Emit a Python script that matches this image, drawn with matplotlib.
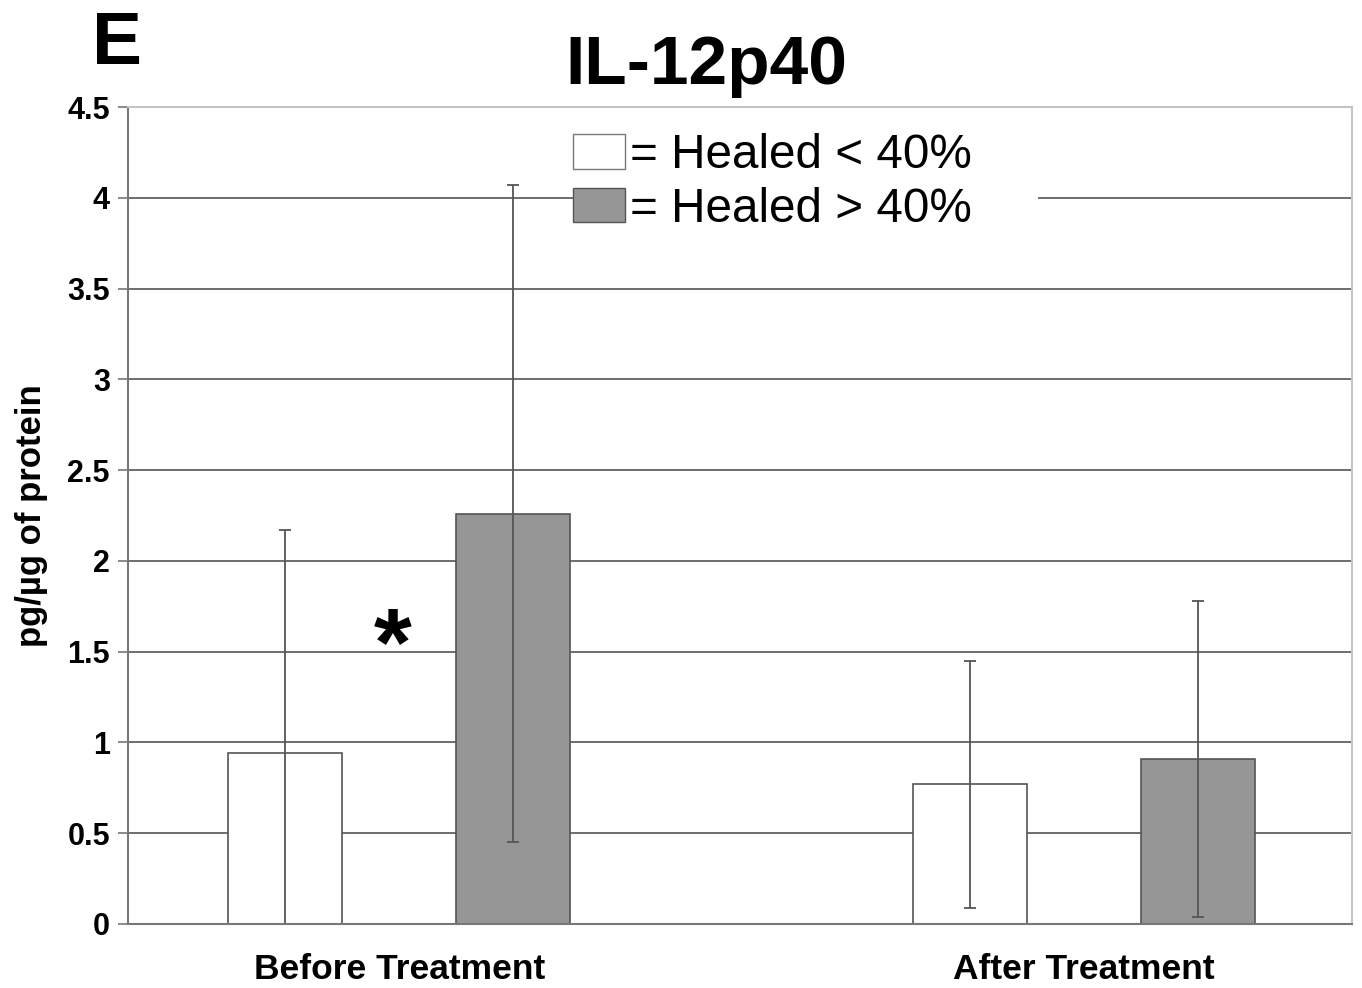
import matplotlib.pyplot as plt
from matplotlib.patches import Patch
import numpy as np

plt.rcParams['font.family'] = ['Liberation Sans', 'DejaVu Sans']

# data
groups = ['Before Treatment', 'After Treatment']
healed_lt40 = [0.94, 0.77]
healed_lt40_err = [1.23, 0.68]
healed_gt40 = [2.26, 0.91]
healed_gt40_err = [1.81, 0.87]
yticks = [0, 0.5, 1, 1.5, 2, 2.5, 3, 3.5, 4, 4.5]
ytick_labels = ['0', '0.5', '1', '1.5', '2', '2.5', '3', '3.5', '4', '4.5']

fig = plt.figure(figsize=(13.62, 9.88), dpi=100)
ax = fig.add_axes([0.094, 0.0648, 0.8987, 0.8269])

x = np.arange(len(groups))
w = 0.1664
ebar = dict(ecolor='#555555', elinewidth=1.3, capsize=4, capthick=1.3)

ax.bar(x - w, healed_lt40, w, color='white', edgecolor='#555555', linewidth=1.2,
       yerr=healed_lt40_err, error_kw=ebar, zorder=2)
ax.bar(x + w, healed_gt40, w, color='#969696', edgecolor='#555555', linewidth=1.2,
       yerr=healed_gt40_err, error_kw=ebar, zorder=2)

ax.set_xlim(-0.396, 1.391)
ax.set_ylim(0, 4.5)
ax.set_yticks(yticks)
ax.set_yticklabels(ytick_labels, fontsize=22, fontweight='bold')
ax.set_xticks(x)
ax.set_xticklabels(groups, fontsize=25.5, fontweight='bold')
ax.tick_params(axis='x', length=0, pad=21)
ax.tick_params(axis='y', length=7, width=1.2, color='#777777', pad=6)

ax.yaxis.grid(True, color='#555555', linewidth=1.2)
ax.set_axisbelow(True)
for side in ['top', 'right']:
    ax.spines[side].set_color('#c4c4c4')
    ax.spines[side].set_linewidth(1.5)
for side in ['left', 'bottom']:
    ax.spines[side].set_color('#777777')
    ax.spines[side].set_linewidth(1.5)

ax.set_ylabel('pg/µg of protein', fontsize=25, fontweight='bold', labelpad=14)

# significance marker
ax.text(-0.009, 1.51, '*', fontsize=70, fontweight='bold', ha='center', va='center')

# legend box is wider than its text in the original, hence the trailing spaces
handles = [Patch(facecolor='white', edgecolor='#777777'),
           Patch(facecolor='#969696', edgecolor='#555555')]
leg = ax.legend(handles, ['= Healed < 40%     ', '= Healed > 40%     '], loc='upper left',
                bbox_to_anchor=(573 / 1362, 1 - 133 / 988), bbox_transform=fig.transFigure,
                fontsize=34.3, frameon=True, fancybox=False, edgecolor='none',
                framealpha=1, handlelength=1.09, handleheight=0.74,
                handletextpad=0.1, labelspacing=0.18, borderpad=0, borderaxespad=0)
leg.get_frame().set_linewidth(0)

fig.text(92 / 1362, 1 - 45 / 988, 'E', fontsize=54, fontweight='bold', va='center', ha='left')
fig.text(706 / 1362, 1 - 66 / 988, 'IL-12p40', fontsize=50, fontweight='bold',
         va='center', ha='center')

fig.savefig('out.png', dpi=100)
